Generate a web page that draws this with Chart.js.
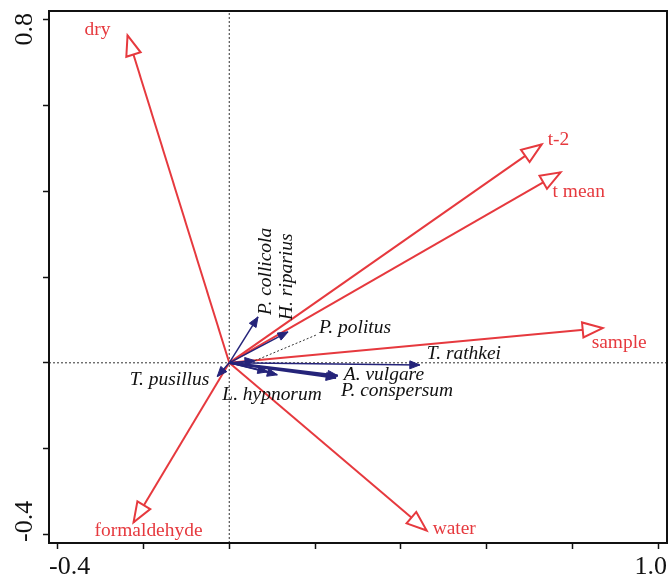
<!DOCTYPE html>
<html>
<head>
<meta charset="utf-8">
<script src="https://cdn.jsdelivr.net/npm/chart.js@4.4.1/dist/chart.umd.min.js"></script>
<style>
  body { margin: 0; background: #fff; }
  #wrap { width: 670px; height: 578px; }
</style>
</head>
<body>
<div id="wrap"><canvas id="biplot" width="670" height="578"></canvas></div>
<script>
// Environmental variables (red arrows)
const envNames = ['dry', 't-2', 't mean', 'sample', 'water', 'formaldehyde']
const envX = [-0.237, 0.728, 0.772, 0.870, 0.460, -0.223]
const envY = [0.763, 0.509, 0.444, 0.081, -0.391, -0.372]

// Species (blue arrows)
const sppNames = ['P. collicola', 'H. riparius', 'P. politus', 'T. rathkei', 'A. vulgare', 'P. conspersum', 'L. hypnorum', '', 'T. pusillus']
const sppX = [0.067, 0.137, 0.060, 0.444, 0.253, 0.249, 0.112, 0.090, -0.028]
const sppY = [0.107, 0.072, 0.005, -0.005, -0.030, -0.035, -0.028, -0.021, -0.032]

// Axes
const xRange = [-0.42, 1.02]
const yRange = [-0.42, 0.82]
const xTicks = [-0.4, -0.2, 0, 0.2, 0.4, 0.6, 0.8, 1.0]
const yTicks = [-0.4, -0.2, 0, 0.2, 0.4, 0.6, 0.8]
const xTickLabels = ['-0.4', '1.0']
const yTickLabels = ['-0.4', '0.8']

const RED = '#e6393e'
const NAVY = '#25247a'
const TEXT_SX = 1.08 // labels in the figure are a touch wider than the font

// where each label sits, relative to its arrow tip (pixels)
const envLabelPlace = {
    'dry': { dx: -30, dy: -5, align: 'center' },
    't-2': { dx: 6, dy: -4, align: 'left' },
    't mean': { dx: -8, dy: 20, align: 'left' },
    'sample': { dx: -11, dy: 15, align: 'left' },
    'water': { dx: 6, dy: -1, align: 'left' },
    'formaldehyde': { dx: 15, dy: 9, align: 'center' }
}
const sppLabelPlace = {
    'P. collicola': { dx: 8, dy: -2, rotate: true },
    'H. riparius': { dx: -1, dy: -12, rotate: true },
    'P. politus': { dx: 64, dy: -32, align: 'left', leader: true },
    'T. rathkei': { dx: 7, dy: -11, align: 'left' },
    'A. vulgare': { dx: 6, dy: 0, align: 'left' },
    'P. conspersum': { dx: 5, dy: 13, align: 'left' },
    'L. hypnorum': { dx: -55, dy: 20, align: 'left' },
    'T. pusillus': { dx: -8, dy: 4, align: 'right' }
}

let datasets = []

// dotted zero lines
datasets.push({
    kind: 'zero', data: [{ x: 0, y: yRange[0] }, { x: 0, y: yRange[1] }],
    showLine: true, borderColor: '#333', borderWidth: 1, borderDash: [2, 2], pointRadius: 0, order: 10
})
datasets.push({
    kind: 'zero', data: [{ x: xRange[0], y: 0 }, { x: xRange[1], y: 0 }],
    showLine: true, borderColor: '#333', borderWidth: 1, borderDash: [2, 2], pointRadius: 0, order: 10
})

envNames.forEach(function (name, i) {
    datasets.push({
        kind: 'env', label: name,
        data: [{ x: 0, y: 0 }, { x: envX[i], y: envY[i] }],
        showLine: true, borderColor: RED, borderWidth: 2, pointRadius: 0, order: 5
    })
})

sppNames.forEach(function (name, i) {
    let thick = (name === 'A. vulgare' || name === 'P. conspersum') ? 2.6 : 1.5
    datasets.push({
        kind: 'spp', label: name,
        data: [{ x: 0, y: 0 }, { x: sppX[i], y: sppY[i] }],
        showLine: true, borderColor: NAVY, borderWidth: thick, pointRadius: 0, order: 1
    })
})

function arrowHead(ctx, x0, y0, x1, y1, len, half, fill, stroke, lw) {
    const a = Math.atan2(y1 - y0, x1 - x0)
    const bx = x1 - len * Math.cos(a), by = y1 - len * Math.sin(a)
    const px = -Math.sin(a) * half, py = Math.cos(a) * half
    ctx.beginPath()
    ctx.moveTo(x1, y1)
    ctx.lineTo(bx + px, by + py)
    ctx.lineTo(bx - px, by - py)
    ctx.closePath()
    ctx.fillStyle = fill
    ctx.fill()
    ctx.strokeStyle = stroke
    ctx.lineWidth = lw
    ctx.lineJoin = 'miter'
    ctx.stroke()
}

function wideText(ctx, text, x, y, align, rotate, sx) {
    ctx.save()
    ctx.translate(x, y)
    if (rotate) ctx.rotate(-Math.PI / 2)
    ctx.scale(sx || TEXT_SX, 1)
    ctx.textAlign = align
    ctx.textBaseline = 'middle'
    ctx.fillText(text, 0, 0)
    ctx.restore()
}

const biplotDecor = {
    id: 'biplotDecor',
    afterDatasetsDraw(chart) {
        const ctx = chart.ctx
        const area = chart.chartArea

        // arrow heads + labels
        chart.data.datasets.forEach(function (ds, i) {
            if (ds.kind !== 'env' && ds.kind !== 'spp') return
            const pts = chart.getDatasetMeta(i).data
            const o = pts[0], t = pts[1]
            ctx.save()
            if (ds.kind === 'env') {
                arrowHead(ctx, o.x, o.y, t.x, t.y, 20, 7.5, '#fff', RED, 2)
                const p = envLabelPlace[ds.label]
                ctx.fillStyle = RED
                ctx.font = '18px "Liberation Serif", "Times New Roman", serif'
                wideText(ctx, ds.label, t.x + p.dx, t.y + p.dy, p.align, false)
            } else {
                arrowHead(ctx, o.x, o.y, t.x, t.y, 10, 4, NAVY, NAVY, 1)
                const p = sppLabelPlace[ds.label]
                if (p) {
                    if (p.leader) {
                        ctx.beginPath()
                        ctx.setLineDash([2, 2])
                        ctx.strokeStyle = '#333'
                        ctx.lineWidth = 1
                        ctx.moveTo(t.x, t.y)
                        ctx.lineTo(t.x + p.dx - 2, t.y + p.dy + 6)
                        ctx.stroke()
                        ctx.setLineDash([])
                    }
                    ctx.fillStyle = '#111'
                    ctx.font = 'italic 18px "Liberation Serif", "Times New Roman", serif'
                    wideText(ctx, ds.label, t.x + p.dx, t.y + p.dy, p.rotate ? 'left' : p.align, p.rotate)
                }
            }
            ctx.restore()
        })

        // frame
        ctx.save()
        ctx.strokeStyle = '#111'
        ctx.lineWidth = 2
        ctx.strokeRect(area.left, area.top, area.right - area.left, area.bottom - area.top)

        // tick labels (only the end ones are printed)
        ctx.fillStyle = '#111'
        ctx.font = '26px "Liberation Serif", "Times New Roman", serif'
        wideText(ctx, xTickLabels[0], area.left, 567, 'left', false, 1.0)
        wideText(ctx, xTickLabels[1], area.right, 567, 'right', false, 1.0)
        wideText(ctx, yTickLabels[0], 25, area.bottom - 1, 'left', true, 1.0)
        wideText(ctx, yTickLabels[1], 25, area.top + 2, 'right', true, 1.0)
        ctx.restore()
    }
}

new Chart(document.getElementById('biplot'), {
    type: 'scatter',
    data: { datasets: datasets },
    options: {
        responsive: false,
        animation: false,
        layout: { padding: { top: 11, right: 3, left: 0, bottom: 0 } },
        plugins: { legend: { display: false }, tooltip: { enabled: false } },
        scales: {
            x: {
                type: 'linear', min: xRange[0], max: xRange[1],
                afterBuildTicks: (s) => { s.ticks = xTicks.map(v => ({ value: v })) },
                afterFit: (s) => { s.height = 35 },
                ticks: { display: false },
                grid: { drawOnChartArea: false, drawTicks: true, tickLength: 6, tickWidth: 1.5, tickColor: '#111' },
                border: { display: true, color: '#111', width: 2 }
            },
            y: {
                type: 'linear', min: yRange[0], max: yRange[1],
                afterBuildTicks: (s) => { s.ticks = yTicks.map(v => ({ value: v })) },
                afterFit: (s) => { s.width = 49 },
                ticks: { display: false },
                grid: { drawOnChartArea: false, drawTicks: true, tickLength: 6, tickWidth: 1.5, tickColor: '#111' },
                border: { display: true, color: '#111', width: 2 }
            }
        }
    },
    plugins: [biplotDecor]
})
</script>
</body>
</html>
